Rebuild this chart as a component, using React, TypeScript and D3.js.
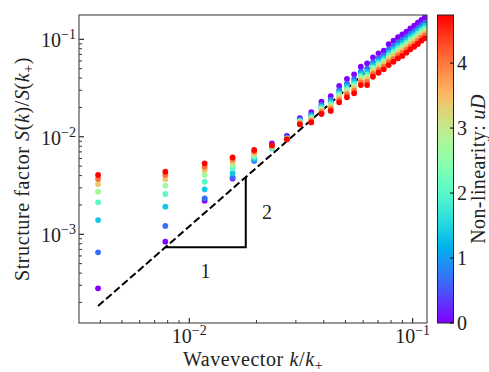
import * as d3 from "d3";

// wavevector k/k+ of each column
const WAVEVECTOR = [
  0.003906, 0.007813, 0.01172, 0.01563, 0.01953, 0.02344, 0.02734, 0.03125, 0.03516, 0.03906,
  0.04297, 0.04688, 0.05078, 0.05469, 0.05859, 0.0625, 0.06641, 0.07031, 0.07422, 0.07813,
  0.08203, 0.08594, 0.08984, 0.09375, 0.09766, 0.1016, 0.1055, 0.1094, 0.1133,
];

// non-linearity uD of each series
const NONLINEARITY = [0, 0.68, 1.35, 2.03, 2.71, 3.39, 4.06, 4.74];

// S(k)/S(k+) for each uD
const S_UD0 = [
  2.79e-4, 8.4e-4, 2.21e-3, 3.73e-3, 5.8e-3, 8.58e-3, 1.019e-2, 1.549e-2, 1.795e-2, 2.291e-2,
  2.618e-2, 3.319e-2, 3.917e-2, 4.375e-2, 5.236e-2, 5.675e-2, 6.531e-2, 7.178e-2, 7.638e-2, 8.892e-2,
  9.683e-2, 0.105, 0.1125, 0.1197, 0.1297, 0.1377, 0.1479, 0.1578, 0.1683,
];
const S_UD1 = [
  6.53e-4, 1.22e-3, 2.34e-3, 3.84e-3, 5.65e-3, 7.9e-3, 9.85e-3, 1.493e-2, 1.687e-2, 2.128e-2,
  2.399e-2, 3.013e-2, 3.516e-2, 3.908e-2, 4.699e-2, 4.989e-2, 5.821e-2, 6.397e-2, 6.839e-2, 7.87e-2,
  8.551e-2, 9.268e-2, 9.886e-2, 0.1057, 0.1146, 0.1216, 0.1303, 0.1396, 0.1486,
];
const S_UD2 = [
  1.4e-3, 1.92e-3, 2.89e-3, 4.25e-3, 5.92e-3, 7.6e-3, 9.65e-3, 1.462e-2, 1.626e-2, 2.042e-2,
  2.275e-2, 2.844e-2, 3.296e-2, 3.656e-2, 4.406e-2, 4.624e-2, 5.433e-2, 5.97e-2, 6.412e-2, 7.311e-2,
  7.943e-2, 8.61e-2, 9.162e-2, 9.817e-2, 0.1064, 0.113, 0.1211, 0.1297, 0.138,
];
const S_UD3 = [
  2.13e-3, 2.59e-3, 3.46e-3, 4.75e-3, 6.21e-3, 7.7e-3, 9.55e-3, 1.439e-2, 1.578e-2, 1.968e-2,
  2.178e-2, 2.716e-2, 3.126e-2, 3.467e-2, 4.178e-2, 4.345e-2, 5.152e-2, 5.662e-2, 6.081e-2, 6.887e-2,
  7.482e-2, 8.11e-2, 8.63e-2, 9.247e-2, 0.1002, 0.1064, 0.114, 0.1225, 0.13,
];
const S_UD4 = [
  2.73e-3, 3.15e-3, 4.06e-3, 5.17e-3, 6.51e-3, 7.85e-3, 9.5e-3, 1.416e-2, 1.538e-2, 1.91e-2,
  2.099e-2, 2.606e-2, 2.985e-2, 3.296e-2, 3.99e-2, 4.111e-2, 4.898e-2, 5.383e-2, 5.794e-2, 6.531e-2,
  7.079e-2, 7.674e-2, 8.147e-2, 8.77e-2, 9.484e-2, 0.1009, 0.1079, 0.1159, 0.123,
];
const S_UD5 = [
  3.26e-3, 3.66e-3, 4.57e-3, 5.52e-3, 6.77e-3, 8.0e-3, 9.45e-3, 1.393e-2, 1.496e-2, 1.849e-2,
  2.018e-2, 2.495e-2, 2.844e-2, 3.141e-2, 3.802e-2, 3.882e-2, 4.656e-2, 5.117e-2, 5.521e-2, 6.18e-2,
  6.699e-2, 7.261e-2, 7.709e-2, 8.299e-2, 8.974e-2, 9.55e-2, 0.1021, 0.1099, 0.1164,
];
const S_UD6 = [
  3.69e-3, 4.06e-3, 4.94e-3, 5.88e-3, 7.06e-3, 8.1e-3, 9.45e-3, 1.371e-2, 1.452e-2, 1.786e-2,
  1.932e-2, 2.382e-2, 2.698e-2, 2.972e-2, 3.606e-2, 3.648e-2, 4.406e-2, 4.842e-2, 5.236e-2, 5.834e-2,
  6.31e-2, 6.839e-2, 7.244e-2, 7.816e-2, 8.453e-2, 8.995e-2, 9.616e-2, 0.1038, 0.1096,
];
const S_UD7 = [
  4.06e-3, 4.39e-3, 5.35e-3, 6.16e-3, 7.32e-3, 8.18e-3, 9.43e-3, 1.343e-2, 1.403e-2, 1.714e-2,
  1.841e-2, 2.259e-2, 2.541e-2, 2.793e-2, 3.396e-2, 3.396e-2, 4.13e-2, 4.539e-2, 4.92e-2, 5.445e-2,
  5.888e-2, 6.383e-2, 6.745e-2, 7.295e-2, 7.889e-2, 8.395e-2, 8.954e-2, 9.683e-2, 0.1023,
];
const SERIES = [S_UD0, S_UD1, S_UD2, S_UD3, S_UD4, S_UD5, S_UD6, S_UD7];

// k^2 guide line and slope triangle
const GUIDE_K = [0.003906, 0.07813];
const GUIDE_S = [1.84e-4, 7.36e-2];
const TRIANGLE_K = [0.007813, 0.0179, 0.0179];
const TRIANGLE_S = [7.36e-4, 7.36e-4, 3.86e-3];
const RUN_LABEL = { k: 0.01183, s: 4.13e-4, text: "1" };
const RISE_LABEL = { k: 0.0223, s: 1.68e-3, text: "2" };

const X_MAJOR = [1e-2, 1e-1];
const X_MAJOR_EXP = ["−2", "−1"];
const Y_MAJOR = [1e-3, 1e-2, 1e-1];
const Y_MAJOR_EXP = ["−3", "−2", "−1"];
const CBAR_TICKS = [0, 1, 2, 3, 4];
const CBAR_MAX = 4.74;

const W = 489;
const H = 372;
const FONT = "'Liberation Serif', 'DejaVu Serif', serif";

// matplotlib "rainbow"
function rainbow(t: number) {
  const r = Math.min(1, Math.abs(2 * t - 0.5));
  const g = Math.sin(Math.PI * t);
  const b = Math.cos((Math.PI * t) / 2);
  return d3.rgb(r * 255, g * 255, b * 255).formatHex();
}

export default function App() {
  const left = 79, right = 427, top = 15, bottom = 323;
  const x = d3.scaleLog().domain([3.209e-3, 0.1159]).range([left, right]);
  const y = d3.scaleLog().domain([1.231e-4, 0.1775]).range([bottom, top]);
  const c = d3.scaleLinear().domain([0, CBAR_MAX]).range([bottom, top]);
  const cbX0 = 437.5, cbX1 = 453.5;

  const isMajor = (v: number) => Math.abs(Math.log10(v) - Math.round(Math.log10(v))) < 1e-6;
  const xTicks = x.ticks();
  const yTicks = y.ticks();

  const line = d3
    .line<number>()
    .x((_d, i) => x(GUIDE_K[i]))
    .y((d) => y(d));
  const tri = d3
    .line<number>()
    .x((_d, i) => x(TRIANGLE_K[i]))
    .y((d) => y(d));

  const gradStops = d3.range(0, 1.0001, 0.05);

  return (
    <svg
      width={W}
      height={H}
      style={{ position: "absolute", left: 0, top: 0, background: "#fff" }}
      fontFamily={FONT}
    >
      <defs>
        <clipPath id="plot-clip">
          <rect x={left} y={top} width={right - left} height={bottom - top} />
        </clipPath>
        <linearGradient id="cbar" x1="0" y1="1" x2="0" y2="0">
          {gradStops.map((t) => (
            <stop key={t} offset={t} stopColor={rainbow(t)} />
          ))}
        </linearGradient>
      </defs>

      {/* guide line */}
      <path
        d={line(GUIDE_S) ?? ""}
        fill="none"
        stroke="#000"
        strokeWidth={2}
        strokeDasharray="7.4 3.2"
        clipPath="url(#plot-clip)"
      />
      <path d={tri(TRIANGLE_S) ?? ""} fill="none" stroke="#000" strokeWidth={2} />
      {[RUN_LABEL, RISE_LABEL].map((l) => (
        <text
          key={l.text}
          x={x(l.k)}
          y={y(l.s) + 6.5}
          fontSize={20}
          textAnchor="middle"
          fill="#222"
        >
          {l.text}
        </text>
      ))}

      {/* scatter */}
      <g clipPath="url(#plot-clip)">
        {SERIES.map((vals, si) =>
          vals.map((v, i) => (
            <circle
              key={`${si}-${i}`}
              cx={x(WAVEVECTOR[i])}
              cy={y(v)}
              r={2.9}
              fill={rainbow(NONLINEARITY[si] / CBAR_MAX)}
            />
          )),
        )}
      </g>

      {/* ticks */}
      {xTicks.map((t) => (
        <line
          key={`xt${t}`}
          x1={x(t)}
          x2={x(t)}
          y1={bottom}
          y2={bottom - (isMajor(t) ? 5 : 3)}
          stroke="#000"
          strokeWidth={isMajor(t) ? 1 : 0.8}
        />
      ))}
      {yTicks.map((t) => (
        <line
          key={`yt${t}`}
          x1={left}
          x2={left + (isMajor(t) ? 5 : 3)}
          y1={y(t)}
          y2={y(t)}
          stroke="#000"
          strokeWidth={isMajor(t) ? 1 : 0.8}
        />
      ))}
      <rect
        x={left}
        y={top}
        width={right - left}
        height={bottom - top}
        fill="none"
        stroke="#444"
        strokeWidth={1.1}
      />

      {/* tick labels */}
      {X_MAJOR.map((t, i) => (
        <text key={`xl${t}`} x={x(t)} y={343} fontSize={20} textAnchor="middle" fill="#222">
          10
          <tspan dy={-8} fontSize={14}>
            {X_MAJOR_EXP[i]}
          </tspan>
        </text>
      ))}
      {Y_MAJOR.map((t, i) => (
        <text key={`yl${t}`} x={76} y={y(t) + 8} fontSize={20} textAnchor="end" fill="#222">
          10
          <tspan dy={-8} fontSize={14}>
            {Y_MAJOR_EXP[i]}
          </tspan>
        </text>
      ))}

      {/* axis titles */}
      <text
        x={(left + right) / 2}
        y={366}
        fontSize={20}
        letterSpacing={0.6}
        textAnchor="middle"
        fill="#222"
      >
        Wavevector <tspan fontStyle="italic">k</tspan>/<tspan fontStyle="italic">k</tspan>
        <tspan dy={4} fontSize={14}>+</tspan>
      </text>
      <text
        transform={`translate(29,${(top + bottom) / 2}) rotate(-90)`}
        fontSize={20}
        letterSpacing={0.6}
        textAnchor="middle"
        fill="#222"
      >
        Structure factor <tspan fontStyle="italic">S</tspan>(<tspan fontStyle="italic">k</tspan>)/
        <tspan fontStyle="italic">S</tspan>(<tspan fontStyle="italic">k</tspan>
        <tspan dy={4} fontSize={14}>+</tspan>
        <tspan dy={-4}>)</tspan>
      </text>

      {/* colorbar */}
      <rect x={cbX0} y={top} width={cbX1 - cbX0} height={bottom - top} fill="url(#cbar)" stroke="#222" strokeWidth={1} />
      {CBAR_TICKS.map((t) => (
        <g key={`cb${t}`}>
          <line x1={cbX1 - 3.5} x2={cbX1} y1={c(t)} y2={c(t)} stroke="#000" strokeWidth={1} />
          <text x={457} y={c(t) + 7} fontSize={20} fill="#222">
            {t}
          </text>
        </g>
      ))}
      <text
        transform={`translate(485,${(top + bottom) / 2}) rotate(-90)`}
        fontSize={20}
        letterSpacing={0.4}
        textAnchor="middle"
        fill="#222"
      >
        Non-linearity: <tspan fontStyle="italic">uD</tspan>
      </text>
    </svg>
  );
}
